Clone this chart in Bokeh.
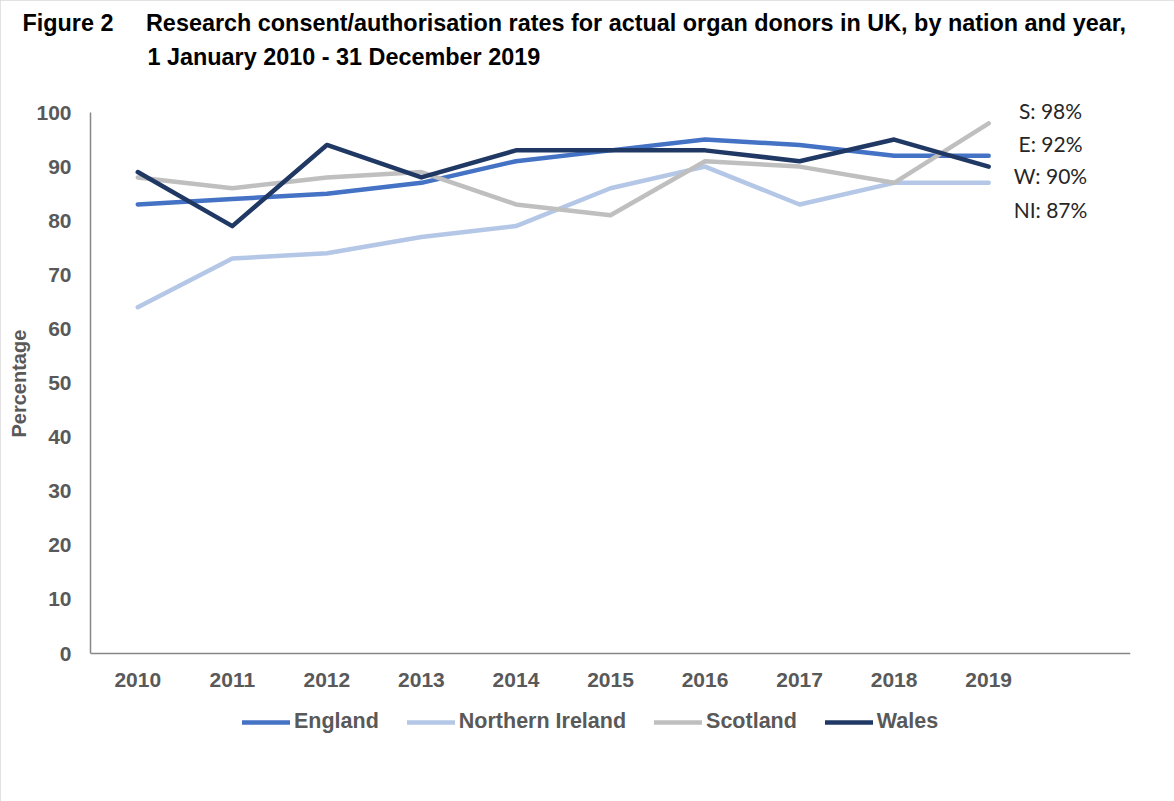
from bokeh.plotting import figure
from bokeh.models import Range1d, FixedTicker, Label, Legend, LegendItem, Title
from bokeh.embed import file_html
from bokeh.resources import INLINE

years = [2010, 2011, 2012, 2013, 2014, 2015, 2016, 2017, 2018, 2019]
england = [83, 84, 85, 87, 91, 93, 95, 94, 92, 92]
northern_ireland = [64, 73, 74, 77, 79, 86, 90, 83, 87, 87]
scotland = [88, 86, 88, 89, 83, 81, 91, 90, 87, 98]
wales = [89, 79, 94, 88, 93, 93, 93, 91, 95, 90]
y_ticks = [0, 10, 20, 30, 40, 50, 60, 70, 80, 90, 100]
end_labels = ["S: 98%", "E: 92%", "W: 90%", "NI: 87%"]

series = [
    ("England", england, "#4472C4"),
    ("Northern Ireland", northern_ireland, "#B4C7E7"),
    ("Scotland", scotland, "#BFBFBF"),
    ("Wales", wales, "#203864"),
]

W, H = 1174, 801
L, R, T, B = 90, 44, 80, 48
AX_TOP, AX_BOT = 112, 653  # pixels of y=100 and y=0
x0, x1 = 2009.5, 2020.5
ppu = (AX_BOT - AX_TOP) / 100.0
y0 = -((H - B) - AX_BOT) / ppu
y1 = 100 + (AX_TOP - T) / ppu

p = figure(width=W, height=H, output_backend="svg", toolbar_location=None,
           x_range=Range1d(x0, x1), y_range=Range1d(y0, y1),
           min_border_left=L, min_border_right=R, min_border_top=T, min_border_bottom=B)
p.outline_line_color = None
p.grid.visible = False
p.background_fill_color = "white"
p.border_fill_color = "white"
p.styles = {"outline": "2px solid #D9D9D9", "outline-offset": "-2px"}

fw, fh = W - L - R, H - T - B
def dx(px):
    return x0 + (px - L) / fw * (x1 - x0)
def dy(py):
    return y0 + (T + fh - py) / fh * (y1 - y0)

items = []
for name, vals, col in series:
    r = p.line(years, vals, line_color=col, line_width=4.5, line_cap="round", line_join="round")
    items.append(LegendItem(label=name, renderers=[r]))

for ax in (p.xaxis[0], p.yaxis[0]):
    ax.axis_line_color = "#868686"
    ax.axis_line_width = 1.5
    ax.major_tick_line_color = None
    ax.minor_tick_line_color = None
    ax.major_label_text_font = "Liberation Sans"
    ax.major_label_text_font_style = "bold"
    ax.major_label_text_font_size = "21px"
    ax.major_label_text_color = "#595959"

p.xaxis.ticker = FixedTicker(ticks=years)
p.xaxis.fixed_location = 0
p.xaxis.major_label_standoff = 13
p.yaxis.ticker = FixedTicker(ticks=y_ticks)
p.yaxis.bounds = (0, 100)
p.yaxis.major_label_standoff = 13
NB = "\u00a0"
p.yaxis.axis_label = NB * 12 + "Percentage"
p.yaxis.axis_label_text_font = "Liberation Sans"
p.yaxis.axis_label_text_font_style = "bold"
p.yaxis.axis_label_text_font_size = "20px"
p.yaxis.axis_label_text_color = "#595959"
p.yaxis.axis_label_standoff = 3

legend = Legend(items=items, orientation="horizontal", location=(152, (H - B) - 734),
                glyph_width=48, glyph_height=22, label_height=22, label_standoff=4, spacing=28,
                padding=0, margin=0, border_line_color=None, background_fill_alpha=0,
                label_text_font="Liberation Sans",
                label_text_font_style="bold", label_text_font_size="21.5px",
                label_text_color="#595959")
p.add_layout(legend, "center")

title_font = dict(text_font="Liberation Sans", text_font_style="bold", text_font_size="23.4px",
                  text_color="#000000", align="left")
p.add_layout(Title(text="1 January 2010 - 31 December 2019", offset=57, standoff=22, **title_font), "above")
p.add_layout(Title(text="Figure 2" + NB * 5 + "Research consent/authorisation rates for actual organ donors in UK, by nation and year,",
                   offset=-68, standoff=-10, **title_font), "above")

# End-of-line annotations
end_px_y = [110, 143, 175, 209]
for txt, py in zip(end_labels, end_px_y):
    p.add_layout(Label(x=dx(1050), y=dy(py), text=txt, text_font="Lato",
                       text_font_size="21px", text_color="#262626",
                       text_align="center", text_baseline="middle"))

open("out.html", "w").write(file_html(p, INLINE))
